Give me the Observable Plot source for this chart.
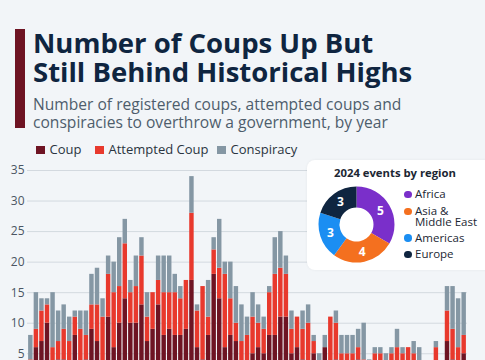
<!DOCTYPE html>
<html>
<head>
<meta charset="utf-8">
<script src="https://cdn.jsdelivr.net/npm/d3@7"></script>
<script src="https://cdn.jsdelivr.net/npm/@observablehq/plot@0.6"></script>
<style>
  html, body { margin: 0; padding: 0; }
  body { width: 485px; height: 360px; overflow: hidden; background: #f2f5f8; position: relative; font-family: "Open Sans", sans-serif; }
  .bar { position: absolute; left: 15px; top: 29px; width: 10px; height: 99px; background: #6e1423; }
  .title { position: absolute; left: 33px; top: 27.6px; font-size: 27.5px; font-weight: 700; line-height: 29.5px; color: #0f2540; white-space: nowrap; }
  .subtitle { position: absolute; left: 33px; top: 94.8px; font-size: 15.6px; line-height: 18.3px; color: #4e5d6c; white-space: nowrap; }
  .legend { position: absolute; top: 140px; left: 36px; font-size: 13px; color: #2a3440; }
  .legend span.item { position: absolute; white-space: nowrap; line-height: 18px; }
  .legend i { display: inline-block; width: 8.5px; height: 8.5px; margin-right: 5px; vertical-align: 0px; }
  #chart { position: absolute; left: 0; top: 158px; }
  #pie { position: absolute; left: 307px; top: 160px; width: 190px; height: 110px; background: #fff; border-radius: 8px; box-shadow: 0 0 3px rgba(0,0,0,0.06); }
  #pie .ptitle { position: absolute; left: 27px; top: 5px; font-size: 11.3px; font-weight: 700; color: #1c2733; white-space: nowrap; }
  #pie .pl { position: absolute; left: 108px; font-size: 11.5px; line-height: 10.5px; color: #1c2733; white-space: nowrap; }
  #pie .pl i { position: absolute; left: -11px; top: 1.5px; width: 7.5px; height: 7.5px; border-radius: 50%; }
</style>
</head>
<body>
<div class="bar"></div>
<div class="title">Number of Coups Up But<br>Still Behind Historical Highs</div>
<div class="subtitle">Number of registered coups, attempted coups and<br>conspiracies to overthrow a government, by year</div>
<div class="legend" id="legend"></div>
<div id="chart"></div>
<div id="pie"></div>
<script>
// ---- Data ----
const years = d3.range(1946, 2025);
const coup = [2,6,7,10,3,4,4,3,8,3,4,9,7,3,11,6,10,14,10,10,13,7,9,13,8,9,8,8,9,17,6,4,8,18,14,6,8,7,3,3,5,6,5,8,8,11,11,5,6,4,3,5,1,6,3,4,3,3,2,4,2,1,2,2,1,1,2,1,2,2,1,1,0,2,1,7,4,3,5];
const attempted = [2,3,5,3,3,3,5,4,3,6,4,4,6,8,7,9,6,9,5,6,8,4,6,4,7,6,7,6,8,11,6,12,3,4,5,12,6,3,4,5,6,4,4,7,10,8,7,4,5,5,7,2,1,0,8,6,2,2,3,2,2,1,3,3,2,4,4,4,4,3,2,1,1,4,1,5,5,3,3];
const conspiracy = [4,6,2,1,9,5,4,4,1,3,4,5,6,3,3,5,8,4,2,5,3,4,0,4,6,6,3,2,0,6,1,0,6,2,8,2,6,6,6,3,4,3,2,1,6,6,3,3,0,3,3,1,3,2,0,2,3,3,3,3,6,2,1,1,2,1,3,1,0,2,3,1,2,1,1,4,7,8,7];
const types = ["Coup", "Attempted Coup", "Conspiracy"];
const typeColors = ["#6e1423", "#e8392d", "#8597a4"];
const yTicks = [5, 10, 15, 20, 25, 30, 35];

const regions = ["Africa", "Asia & Middle East", "Americas", "Europe"];
const regionCounts = [5, 4, 3, 3];
const regionColors = ["#7a2fca", "#f4701f", "#1b8ef2", "#0f2540"];

// ---- Legend ----
const legend = document.getElementById("legend");
const legendX = [0, 59, 181];
types.forEach((t, i) => {
  const s = document.createElement("span");
  s.className = "item";
  s.style.left = legendX[i] + "px";
  s.innerHTML = `<i style="background:${typeColors[i]}"></i>${t}`;
  legend.appendChild(s);
});

// ---- Bars ----
const rows = [];
years.forEach((y, i) => {
  rows.push({year: y, type: types[0], value: coup[i]});
  rows.push({year: y, type: types[1], value: attempted[i]});
  rows.push({year: y, type: types[2], value: conspiracy[i]});
});

const chart = Plot.plot({
  width: 485,
  height: 240,
  marginTop: 12,
  marginBottom: 14.2,
  marginLeft: 27,
  marginRight: 18,
  style: {background: "transparent", fontFamily: "Open Sans, sans-serif", fontSize: "12px", color: "#4b5563"},
  x: {type: "band", domain: years, padding: 0.2, axis: null},
  y: {domain: [0, 35], ticks: yTicks, tickSize: 0, tickPadding: 3, label: null},
  color: {domain: types, range: typeColors},
  marks: [
    Plot.gridY(yTicks, {stroke: "#d3d9df", strokeOpacity: 1, strokeWidth: 1}),
    Plot.barY(rows, {x: "year", y: "value", fill: "type", order: types}),
    Plot.axisY(yTicks, {tickSize: 0, tickPadding: 3, fill: "#4b5563", fontSize: 12, label: null})
  ]
});
document.getElementById("chart").appendChild(chart);

// ---- Donut inset ----
const pie = document.getElementById("pie");
const t = document.createElement("div");
t.className = "ptitle";
t.textContent = "2024 events by region";
pie.appendChild(t);

const cx = 49.5, cy = 64.5;
const svg = d3.create("svg").attr("width", 100).attr("height", 110)
  .style("position", "absolute").style("left", "0").style("top", "0");
const arcs = d3.pie().sort(null)(regionCounts);
const arc = d3.arc().innerRadius(17).outerRadius(38);
const labelArc = d3.arc().innerRadius(27.5).outerRadius(27.5);
const g = svg.append("g").attr("transform", `translate(${cx},${cy})`);
g.selectAll("path").data(arcs).join("path")
  .attr("d", arc).attr("fill", (d, i) => regionColors[i]);
g.selectAll("text").data(arcs).join("text")
  .attr("transform", d => `translate(${labelArc.centroid(d)})`)
  .attr("text-anchor", "middle").attr("dy", "0.35em")
  .attr("fill", "#fff").attr("font-weight", 700).attr("font-size", 12)
  .attr("font-family", "Open Sans, sans-serif")
  .text(d => d.data);
pie.appendChild(svg.node());

const labelTops = [29, 46, 72.5, 89];
const labelHtml = ["Africa", "Asia &amp;<br>Middle East", "Americas", "Europe"];
regions.forEach((r, i) => {
  const d = document.createElement("div");
  d.className = "pl";
  d.style.top = labelTops[i] + "px";
  d.innerHTML = `<i style="background:${regionColors[i]}"></i>${labelHtml[i]}`;
  pie.appendChild(d);
});
</script>
</body>
</html>
